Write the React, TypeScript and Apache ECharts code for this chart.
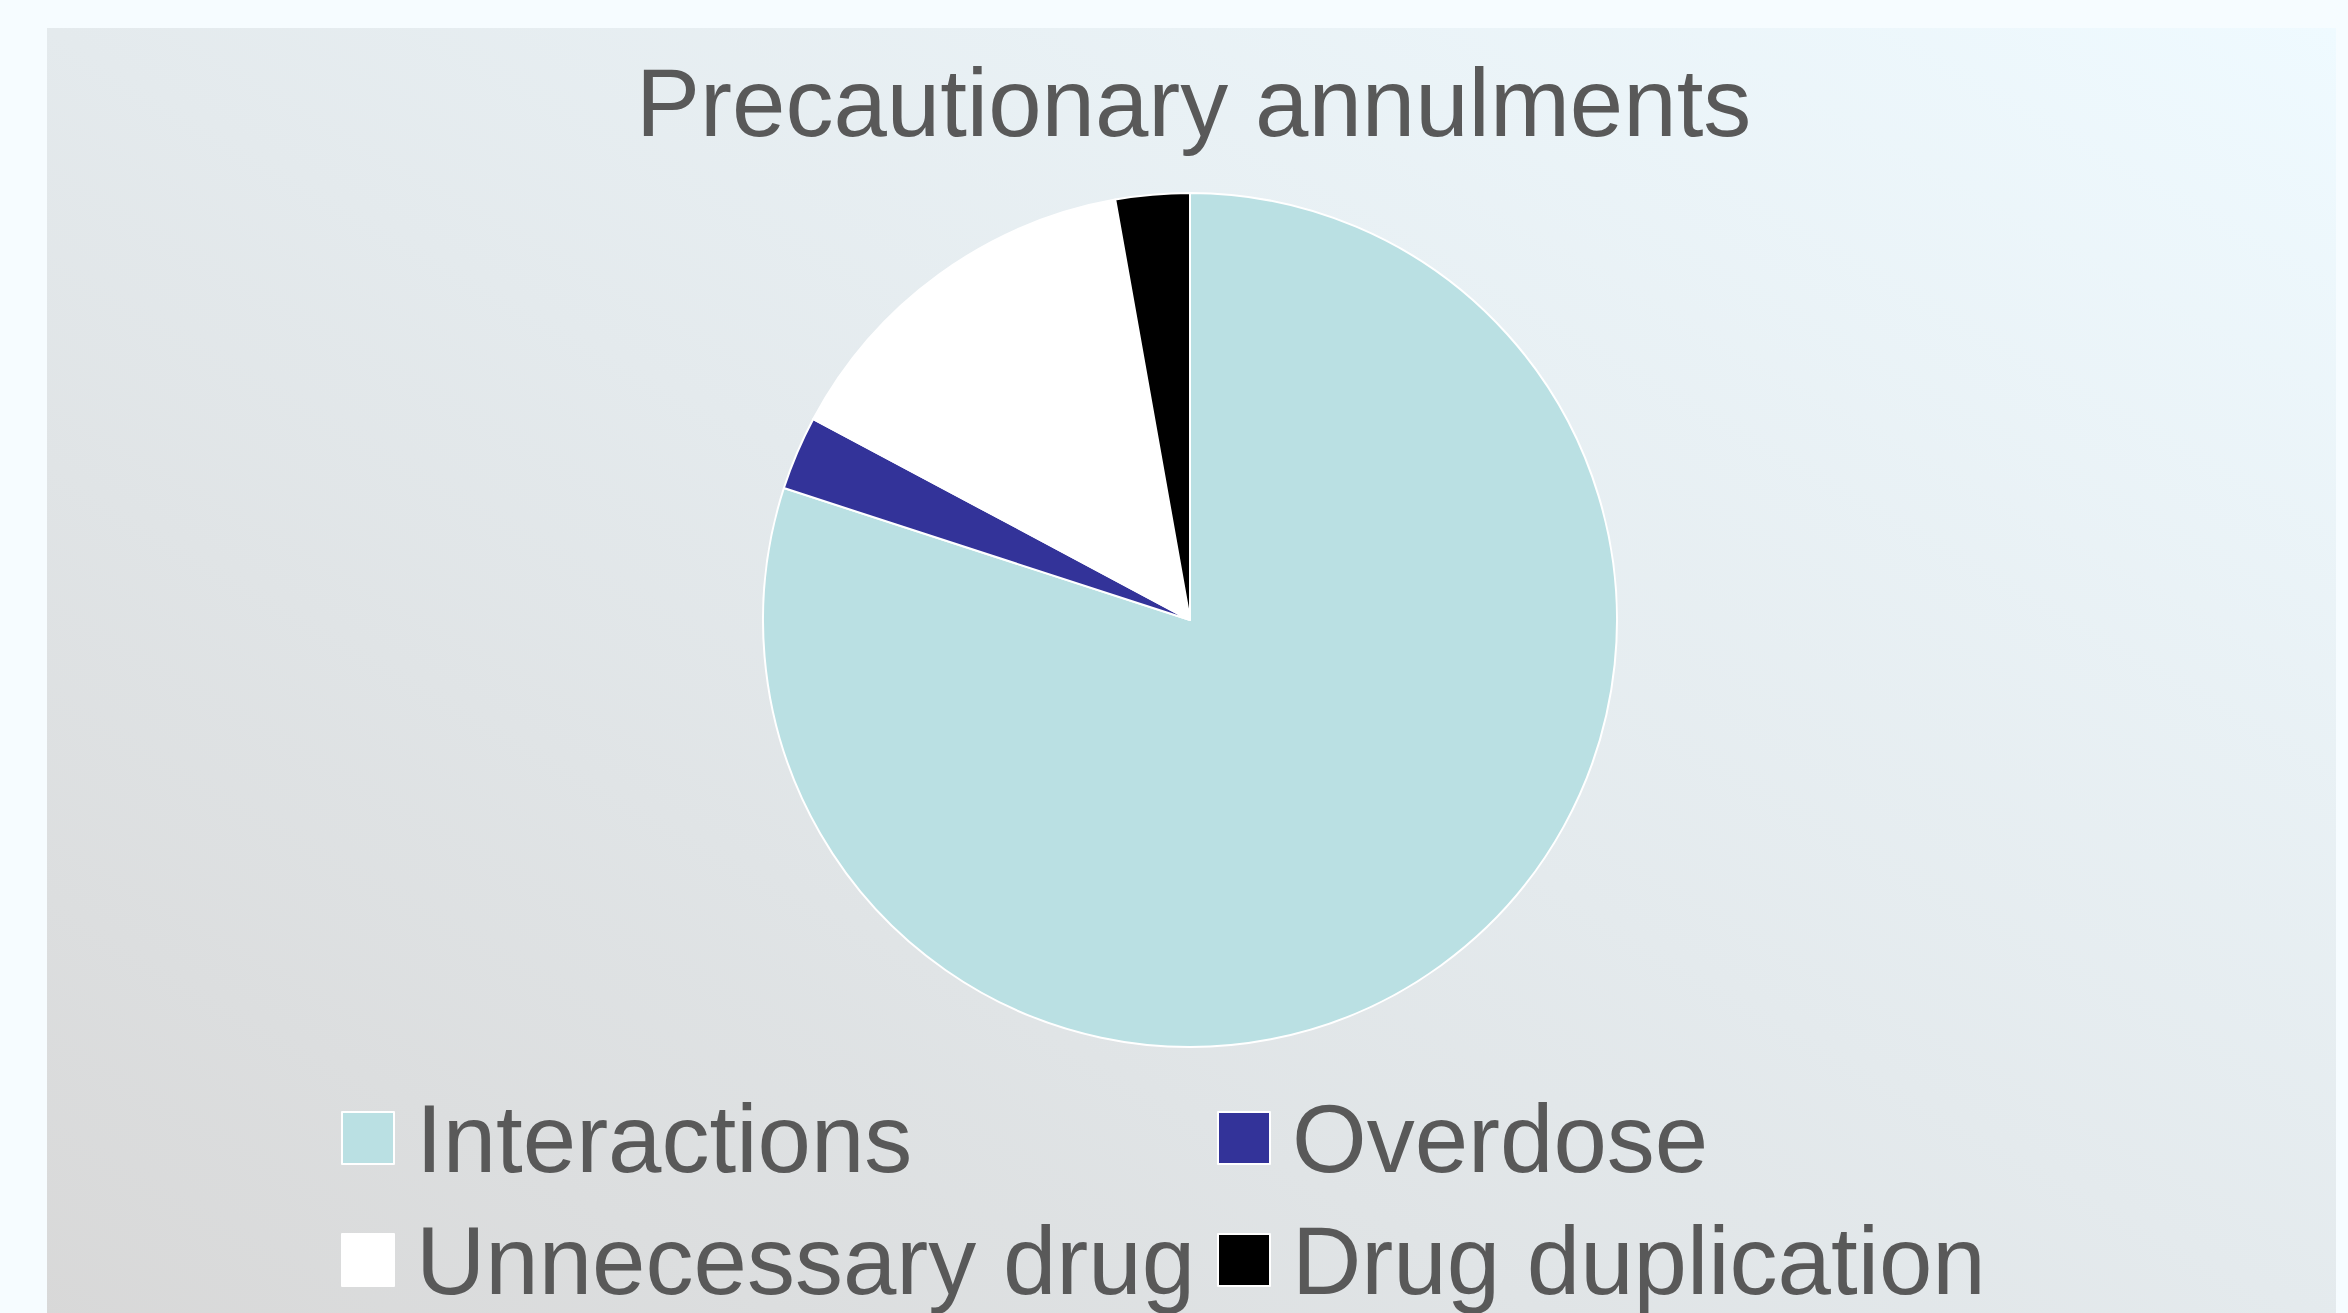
import React, { useEffect, useRef } from "react";
import * as echarts from "echarts";

const titleText = "Precautionary annulments";
const categories = ["Interactions", "Overdose", "Unnecessary drug", "Drug duplication"];
const values = [80, 2.8, 14.4, 2.8];
const colors = ["#bae0e3", "#333399", "#ffffff", "#000000"];
const legendLeftColumn = ["Interactions", "Unnecessary drug"];
const legendRightColumn = ["Overdose", "Drug duplication"];

export default function App() {
  const ref = useRef<HTMLDivElement>(null);
  useEffect(() => {
    if (!ref.current) return;
    const chart = echarts.init(ref.current, undefined, { renderer: "svg" });
    const font = "'Liberation Sans', Arial, sans-serif";
    const legendCommon = {
      orient: "vertical",
      top: 1090,
      height: 400,
      itemWidth: 52,
      itemHeight: 52,
      itemGap: 26,
      icon: "rect",
      selectedMode: false,
      padding: 0,
      textStyle: {
        fontSize: 96,
        lineHeight: 96,
        color: "#595959",
        fontFamily: font,
        padding: [0, 0, 0, 17],
      },
    };
    chart.setOption({
      animation: false,
      backgroundColor: "#f6fcff",
      graphic: [
        {
          type: "rect",
          z: -10,
          silent: true,
          shape: { x: 47, y: 28, width: 2289, height: 1300 },
          style: {
            fill: {
              type: "linear",
              x: 0,
              y: 1,
              x2: 1,
              y2: 0,
              colorStops: [
                { offset: 0, color: "#d8d8d8" },
                { offset: 0.5, color: "#e4eaed" },
                { offset: 1, color: "#effaff" },
              ],
            },
          },
        },
      ],
      title: {
        text: titleText,
        left: 636,
        top: 47,
        padding: 0,
        textStyle: {
          fontSize: 96,
          lineHeight: 110,
          fontWeight: "normal",
          color: "#595959",
          fontFamily: font,
        },
      },
      legend: [
        { ...legendCommon, left: 341, data: legendLeftColumn },
        { ...legendCommon, left: 1217, data: legendRightColumn },
      ],
      series: [
        {
          type: "pie",
          center: [1190, 620],
          radius: 427,
          startAngle: 90,
          clockwise: true,
          label: { show: false },
          labelLine: { show: false },
          emphasis: { disabled: true },
          itemStyle: { borderColor: "#ffffff", borderWidth: 2 },
          data: categories.map((name, i) => ({
            name,
            value: values[i],
            itemStyle: { color: colors[i] },
          })),
        },
      ],
    });
    return () => chart.dispose();
  }, []);
  return (
    <div
      ref={ref}
      style={{ position: "absolute", left: 0, top: 0, width: 2348, height: 1313 }}
    />
  );
}
